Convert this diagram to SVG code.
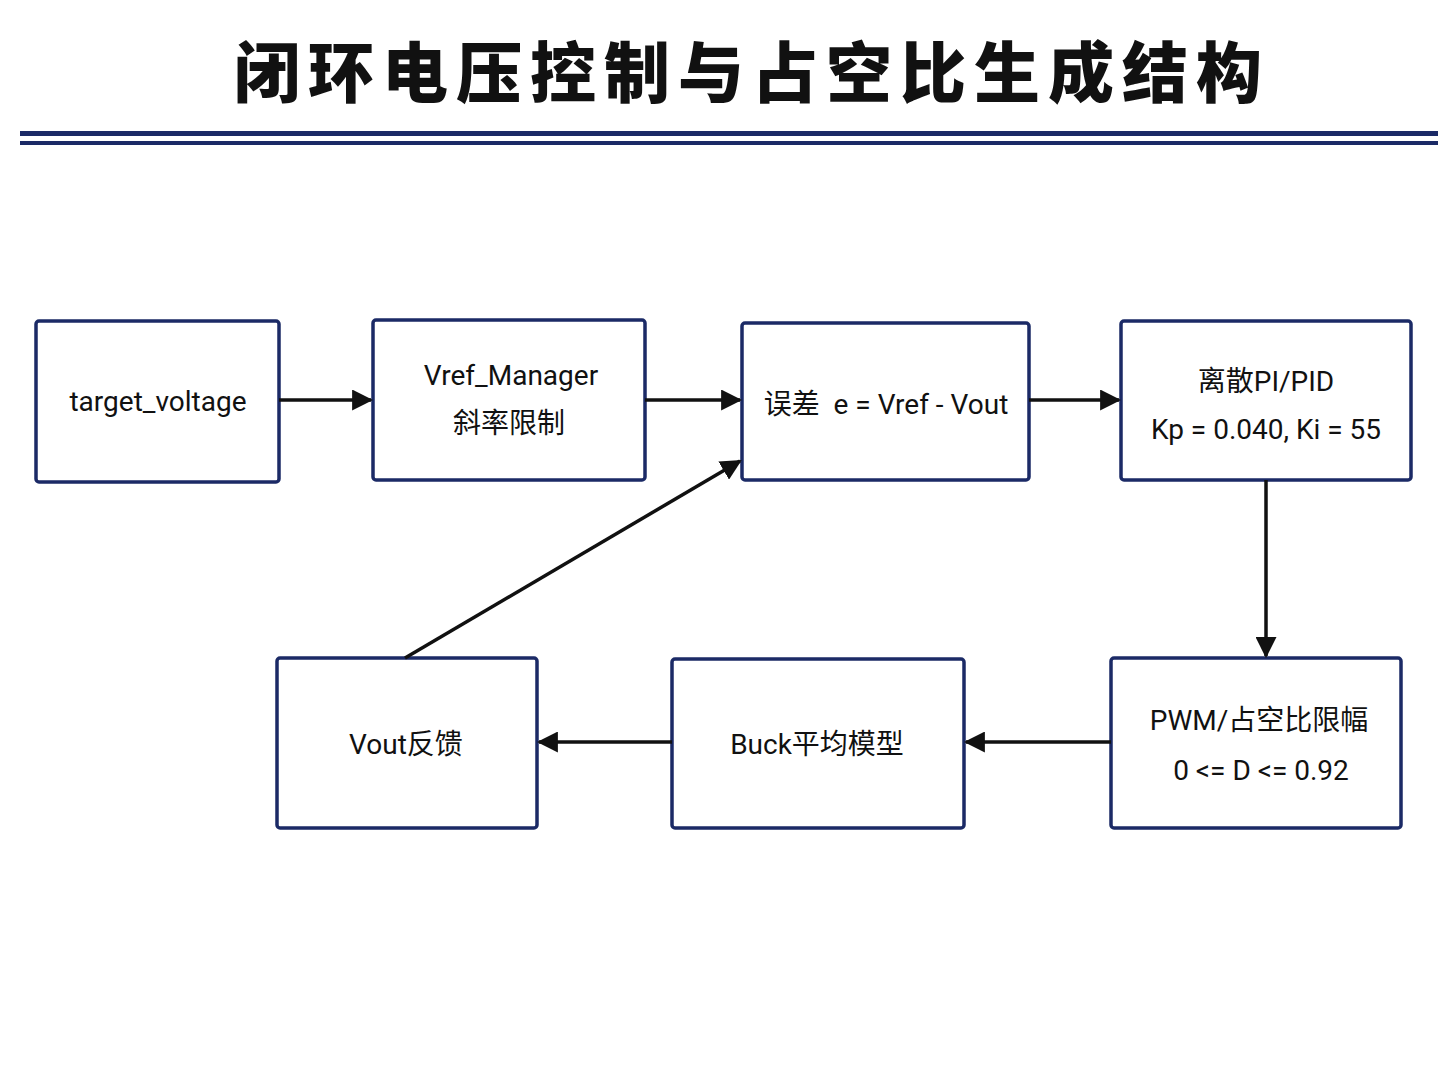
<svg xmlns="http://www.w3.org/2000/svg" width="1448" height="1086" viewBox="0 0 1448 1086">
<defs>
<style>
.box{fill:#fff;stroke:#1b2a66;stroke-width:3.5}
.t{font-family:"Roboto","Noto Sans CJK SC",sans-serif;font-size:28px;fill:#111;text-anchor:middle}
.c{stroke:#111;stroke-width:3.5;fill:none;marker-end:url(#a)}
</style>
<marker id="a" viewBox="0 0 10 10" refX="9" refY="5" markerWidth="6" markerHeight="6" orient="auto" markerUnits="strokeWidth"><path d="M0,0L10,5L0,10z" fill="#111"/></marker>
</defs>
<rect width="1448" height="1086" fill="#fff"/>
<text x="752" y="97" font-family="Noto Sans CJK SC,sans-serif" font-weight="900" font-size="66" text-anchor="middle" letter-spacing="8" fill="#111">闭环电压控制与占空比生成结构</text>
<rect x="20" y="131" width="1418" height="5" fill="#1b2a66"/>
<rect x="20" y="141" width="1418" height="4" fill="#1b2a66"/>
<g id="n1"><rect class="box" x="36" y="321" width="243" height="161" rx="3"/><text class="t" x="158" y="411">target_voltage</text></g>
<g id="n2"><rect class="box" x="373" y="320" width="272" height="160" rx="3"/><text class="t" x="511" y="385">Vref_Manager</text><text class="t" x="509" y="433">斜率限制</text></g>
<g id="n3"><rect class="box" x="742" y="323" width="287" height="157" rx="3"/><text class="t" x="886" y="414" xml:space="preserve">误差  e = Vref - Vout</text></g>
<g id="n4"><rect class="box" x="1121" y="321" width="290" height="159" rx="3"/><text class="t" x="1266" y="391">离散PI/PID</text><text class="t" x="1266" y="439">Kp = 0.040, Ki = 55</text></g>
<g id="n5"><rect class="box" x="1111" y="658" width="290" height="170" rx="3"/><text class="t" x="1259" y="730">PWM/占空比限幅</text><text class="t" x="1261" y="780">0 &lt;= D &lt;= 0.92</text></g>
<g id="n6"><rect class="box" x="672" y="659" width="292" height="169" rx="3"/><text class="t" x="817" y="754">Buck平均模型</text></g>
<g id="n7"><rect class="box" x="277" y="658" width="260" height="170" rx="3"/><text class="t" x="406" y="754">Vout反馈</text></g>
<g id="connectors">
<line class="c" x1="279" y1="400" x2="371" y2="400"/>
<line class="c" x1="645" y1="400" x2="740" y2="400"/>
<line class="c" x1="1029" y1="400" x2="1119" y2="400"/>
<line class="c" x1="1266" y1="480" x2="1266" y2="656"/>
<line class="c" x1="1111" y1="742" x2="966" y2="742"/>
<line class="c" x1="672" y1="742" x2="539" y2="742"/>
<line class="c" x1="405" y1="658" x2="740" y2="461"/>
</g>
</svg>
